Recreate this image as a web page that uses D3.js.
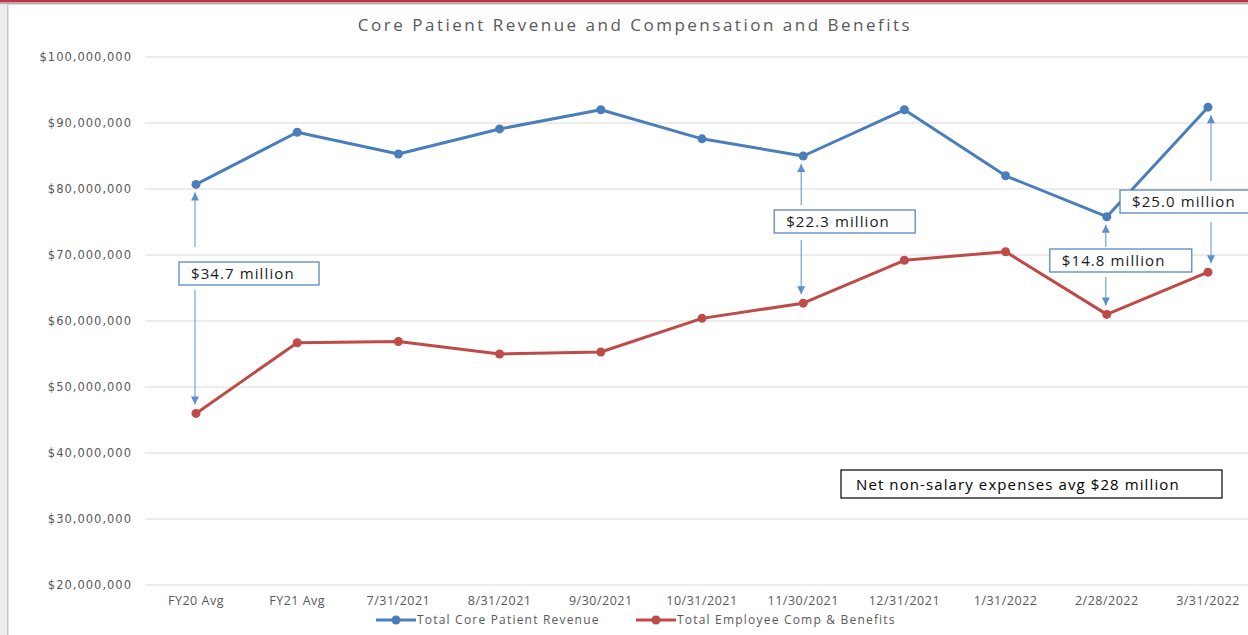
<!DOCTYPE html>
<html>
<head>
<meta charset="utf-8">
<script src="https://cdn.jsdelivr.net/npm/d3@7"></script>
<style>
  body { margin: 0; background: #fff; }
  svg { display: block; }
</style>
</head>
<body>
<div id="chart"></div>
<script>
// categories on the x axis
const categories = ["FY20 Avg", "FY21 Avg", "7/31/2021", "8/31/2021", "9/30/2021", "10/31/2021",
  "11/30/2021", "12/31/2021", "1/31/2022", "2/28/2022", "3/31/2022"];

// series values (dollars)
const revenue = [80.7e6, 88.6e6, 85.3e6, 89.1e6, 92.0e6, 87.6e6, 85.0e6, 92.0e6, 82.0e6, 75.8e6, 92.4e6];
const compBenefits = [46.0e6, 56.7e6, 56.9e6, 55.0e6, 55.3e6, 60.4e6, 62.7e6, 69.2e6, 70.5e6, 61.0e6, 67.4e6];

const seriesNames = ["Total Core Patient Revenue", "Total Employee Comp & Benefits"];
const yTicks = [20e6, 30e6, 40e6, 50e6, 60e6, 70e6, 80e6, 90e6, 100e6];

// gap callouts: category index and label
const gapIndex = [0, 6, 9, 10];
const gapLabels = ["$34.7 million", "$22.3 million", "$14.8 million", "$25.0 million"];

const noteText = "Net non-salary expenses avg $28 million";

const W = 1248, H = 635;
const blue = "#4a7ebb", red = "#be4b48", arrowBlue = "#5b8fd0";

const svg = d3.select('#chart').append('svg')
  .attr('width', W).attr('height', H);

// window chrome: red bar on top, grey edge on the left
svg.append('rect').attr('x', 0).attr('y', 0).attr('width', W).attr('height', 2.5).attr('fill', '#c1334d');
svg.append('rect').attr('x', 0).attr('y', 2.5).attr('width', W).attr('height', 2).attr('fill', '#b0b0b0');
svg.append('rect').attr('x', 0).attr('y', 4.5).attr('width', 7).attr('height', H).attr('fill', '#eeeeee');
svg.append('rect').attr('x', 7).attr('y', 4.5).attr('width', 1.5).attr('height', H).attr('fill', '#c8c8c8');

const defs = svg.append('defs');
defs.append('marker')
  .attr('id', 'arrowHead')
  .attr('viewBox', '0 0 10 10')
  .attr('refX', 10).attr('refY', 5)
  .attr('markerWidth', 10).attr('markerHeight', 8)
  .attr('markerUnits', 'userSpaceOnUse')
  .attr('orient', 'auto')
  .append('path').attr('d', 'M0,0 L10,5 L0,10 Z').attr('fill', arrowBlue);

// title
svg.append('text')
  .attr('x', 635).attr('y', 31)
  .attr('text-anchor', 'middle')
  .style('font-family', 'Open Sans, sans-serif')
  .style('font-size', '17px')
  .style('letter-spacing', '2.5px')
  .attr('fill', '#595959')
  .text("Core Patient Revenue and Compensation and Benefits");

// scales
const x = d3.scalePoint().domain(categories).range([196, 1208]);
const y = d3.scaleLinear().domain([20e6, 100e6]).range([585, 57]);

// gridlines
svg.append('g').selectAll('line')
  .data(yTicks).enter().append('line')
  .attr('x1', 145).attr('x2', W)
  .attr('y1', d => y(d)).attr('y2', d => y(d))
  .attr('stroke', '#d9d9d9').attr('stroke-width', 1.2);

// y tick labels
const fmt = d3.format('$,.0f');
svg.append('g').selectAll('text')
  .data(yTicks).enter().append('text')
  .attr('x', 132).attr('y', d => y(d) + 4)
  .attr('text-anchor', 'end')
  .style('font-family', 'DejaVu Sans, sans-serif')
  .style('font-size', '11.5px')
  .style('letter-spacing', '1px')
  .attr('fill', '#595959')
  .text(d => fmt(d));

// x labels
svg.append('g').selectAll('text')
  .data(categories).enter().append('text')
  .attr('x', d => x(d)).attr('y', 605)
  .attr('text-anchor', 'middle')
  .style('font-family', 'Open Sans, sans-serif')
  .style('font-size', '12.5px')
  .style('letter-spacing', '0.5px')
  .attr('fill', '#595959')
  .text(d => d);

// series lines
const line = d3.line().x((d, i) => x(categories[i])).y(d => y(d));
const drawSeries = function (values, color) {
  svg.append('path')
    .datum(values)
    .attr('d', line)
    .attr('fill', 'none')
    .attr('stroke', color)
    .attr('stroke-width', 3)
    .attr('stroke-linejoin', 'round');
  svg.append('g').selectAll('circle')
    .data(values).enter().append('circle')
    .attr('cx', (d, i) => x(categories[i]))
    .attr('cy', d => y(d))
    .attr('r', 4.5)
    .attr('fill', color);
};
drawSeries(revenue, blue);
drawSeries(compBenefits, red);

// gap callouts (box position relative to the category)
const boxLayout = [
  { dx: -17, top: 262, w: 140, xArrow: -1, upEnd: 247, downStart: 290 },
  { dx: -29, top: 210, w: 141, xArrow: -2, upEnd: 205, downStart: 240 },
  { dx: -57, top: 249, w: 142, xArrow: -1, upEnd: 247, downStart: 277 },
  { dx: -88, top: 190, w: 140, xArrow: 3, upEnd: 181, downStart: 222 }
];
gapIndex.forEach(function (k, j) {
  const cx = x(categories[k]);
  const b = boxLayout[j];
  const ax = cx + b.xArrow;
  // up arrow towards revenue
  svg.append('line')
    .attr('x1', ax).attr('x2', ax)
    .attr('y1', b.upEnd).attr('y2', y(revenue[k]) + 8)
    .attr('stroke', arrowBlue).attr('stroke-width', 1)
    .attr('marker-end', 'url(#arrowHead)');
  // down arrow towards comp
  svg.append('line')
    .attr('x1', ax).attr('x2', ax)
    .attr('y1', b.downStart).attr('y2', y(compBenefits[k]) - 9)
    .attr('stroke', arrowBlue).attr('stroke-width', 1)
    .attr('marker-end', 'url(#arrowHead)');
  svg.append('rect')
    .attr('x', cx + b.dx).attr('y', b.top)
    .attr('width', b.w).attr('height', 23)
    .attr('fill', '#fff')
    .attr('stroke', '#4a7ebb').attr('stroke-width', 1.2);
  svg.append('text')
    .attr('x', cx + b.dx + 12).attr('y', b.top + 17)
    .style('font-family', 'Open Sans, sans-serif')
    .style('font-size', '15px')
    .style('letter-spacing', '1.1px')
    .attr('fill', '#1a1a1a')
    .text(gapLabels[j]);
});

// note box
svg.append('rect')
  .attr('x', 841).attr('y', 470).attr('width', 381).attr('height', 28)
  .attr('fill', '#fff').attr('stroke', '#000').attr('stroke-width', 1.2);
svg.append('text')
  .attr('x', 856).attr('y', 490)
  .style('font-family', 'Open Sans, sans-serif')
  .style('font-size', '15px')
  .style('letter-spacing', '1.1px')
  .attr('fill', '#000')
  .text(noteText);

// legend
const legend = svg.append('g');
const legendItems = [
  { name: seriesNames[0], color: blue, x: 376 },
  { name: seriesNames[1], color: red, x: 636 }
];
legendItems.forEach(function (d) {
  legend.append('line')
    .attr('x1', d.x).attr('x2', d.x + 40)
    .attr('y1', 620).attr('y2', 620)
    .attr('stroke', d.color).attr('stroke-width', 3);
  legend.append('circle')
    .attr('cx', d.x + 20).attr('cy', 620).attr('r', 4.5).attr('fill', d.color);
  legend.append('text')
    .attr('x', d.x + 41).attr('y', 624)
    .style('font-family', 'Open Sans, sans-serif')
    .style('font-size', '12px')
    .style('letter-spacing', '1.2px')
    .attr('fill', '#595959')
    .text(d.name);
});
</script>
</body>
</html>
